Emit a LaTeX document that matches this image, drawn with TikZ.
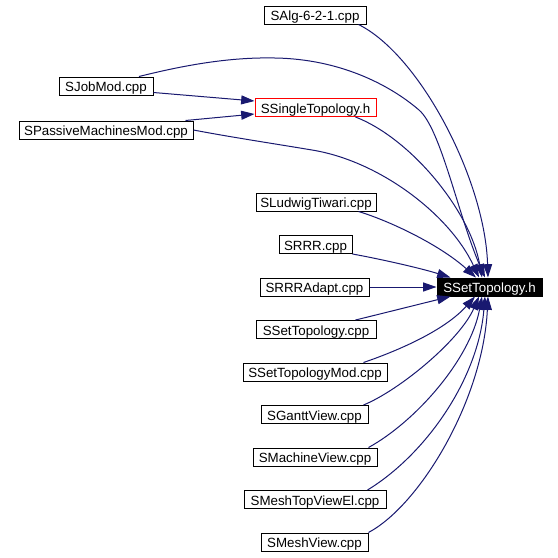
\documentclass[tikz,border=0pt]{standalone}
\usepackage{fontspec}
\setmainfont{Liberation Sans}
\usetikzlibrary{arrows.meta,calc}
\definecolor{edgeblue}{HTML}{191970}
\begin{document}
\begin{tikzpicture}[x=0.75pt,y=-0.75pt,
  nodebox/.style={draw=black,line width=0.75pt,fill=white,inner sep=0pt,
    minimum height=13.5pt,text height=8.4pt,text depth=0pt,
    font=\fontsize{10}{12}\selectfont},
  rootbox/.style={nodebox,fill=black,text=white},
  redbox/.style={nodebox,draw=red},
  edge/.style={draw=edgeblue,line width=0.75pt,
    -{Triangle[length=10pt,width=6.75pt]}}]
\useasboundingbox (0,0) rectangle (558,558);
\fill[white] (0,0) rectangle (558,558);

\node[nodebox,minimum width=76.5pt] (salg) at (315,15) {SAlg-6-2-1.cpp};
\node[nodebox,minimum width=70.5pt] (sjob) at (106,86) {SJobMod.cpp};
\node[redbox,minimum width=90.75pt] (ssingle) at (315.5,107.5) {SSingleTopology.h};
\node[nodebox,minimum width=130.5pt] (spass) at (106,130) {SPassiveMachinesMod.cpp};
\node[nodebox,minimum width=90pt] (slud) at (316,202) {SLudwigTiwari.cpp};
\node[nodebox,minimum width=54.75pt] (srrr) at (315.5,244.5) {SRRR.cpp};
\node[nodebox,minimum width=81.75pt] (srrra) at (314.5,287) {SRRRAdapt.cpp};
\node[rootbox,minimum width=78.75pt] (tgt) at (489.5,287) {SSetTopology.h};
\node[nodebox,minimum width=90pt] (sstcpp) at (316,329.5) {SSetTopology.cpp};
\node[nodebox,minimum width=108pt] (sstmod) at (315,372) {SSetTopologyMod.cpp};
\node[nodebox,minimum width=80.25pt] (sgantt) at (314.5,414.5) {SGanttView.cpp};
\node[nodebox,minimum width=93pt] (smach) at (315,457) {SMachineView.cpp};
\node[nodebox,minimum width=106.5pt] (smesht) at (315,499.5) {SMeshTopViewEl.cpp};
\node[nodebox,minimum width=80.25pt] (smeshv) at (314.5,542) {SMeshView.cpp};

\draw[edge] ($(sjob.south east)+(0,-3)$) -- ($(ssingle.west)+(0,-6.5)$);
\draw[edge] ($(spass.north east)+(-8,0)$) -- ($(ssingle.west)+(0,6.5)$);

\draw[edge] ($(salg.south east)+(-8,0)$) .. controls (420,55) and (485,180) .. ($(tgt.north)+(-1.5,0)$);
\draw[edge] ($(sjob.north)+(33,0)$) .. controls (185,65) and (230,57) .. (275,58)
  .. controls (340,59) and (390,85) .. (419,110)
  .. controls (441,129) and (458,215) .. ($(tgt.north)+(-4.5,0)$);
\draw[edge] ($(ssingle.south east)+(-21,0)$) .. controls (410,138) and (470,210) .. ($(tgt.north)+(-7.5,0)$);
\draw[edge] (spass.east) .. controls (230,137) and (270,143) .. (312,150)
  .. controls (380,161) and (450,215) .. ($(tgt.north)+(-10.5,0)$);
\draw[edge] ($(slud.south east)+(-18,0)$) .. controls (390,221) and (440,245) .. ($(tgt.north)+(-13.5,0)$);
\draw[edge] (srrr.south east) .. controls (380,259) and (420,268) .. ($(tgt.north west)+(14,0)$);
\draw[edge] (srrra.east) -- (tgt.west);
\draw[edge] ($(sstcpp.north east)+(-21,0)$) .. controls (380,314) and (420,304) .. ($(tgt.south west)+(14,0)$);
\draw[edge] ($(sstmod.north east)+(-24,0)$) .. controls (400,350) and (445,330) .. ($(tgt.south)+(-14.5,0)$);
\draw[edge] ($(sgantt.north east)+(-5,0)$) .. controls (400,390) and (460,340) .. ($(tgt.south)+(-10.5,0)$);
\draw[edge] ($(smach.north east)+(-9,0)$) .. controls (415,422) and (470,360) .. ($(tgt.south)+(-7.5,0)$);
\draw[edge] ($(smesht.north east)+(-19,0)$) .. controls (425,455) and (478,380) .. ($(tgt.south)+(-4.5,0)$);
\draw[edge] (smeshv.north east) .. controls (420,505) and (483,400) .. ($(tgt.south)+(-1.5,0)$);
\end{tikzpicture}
\end{document}
